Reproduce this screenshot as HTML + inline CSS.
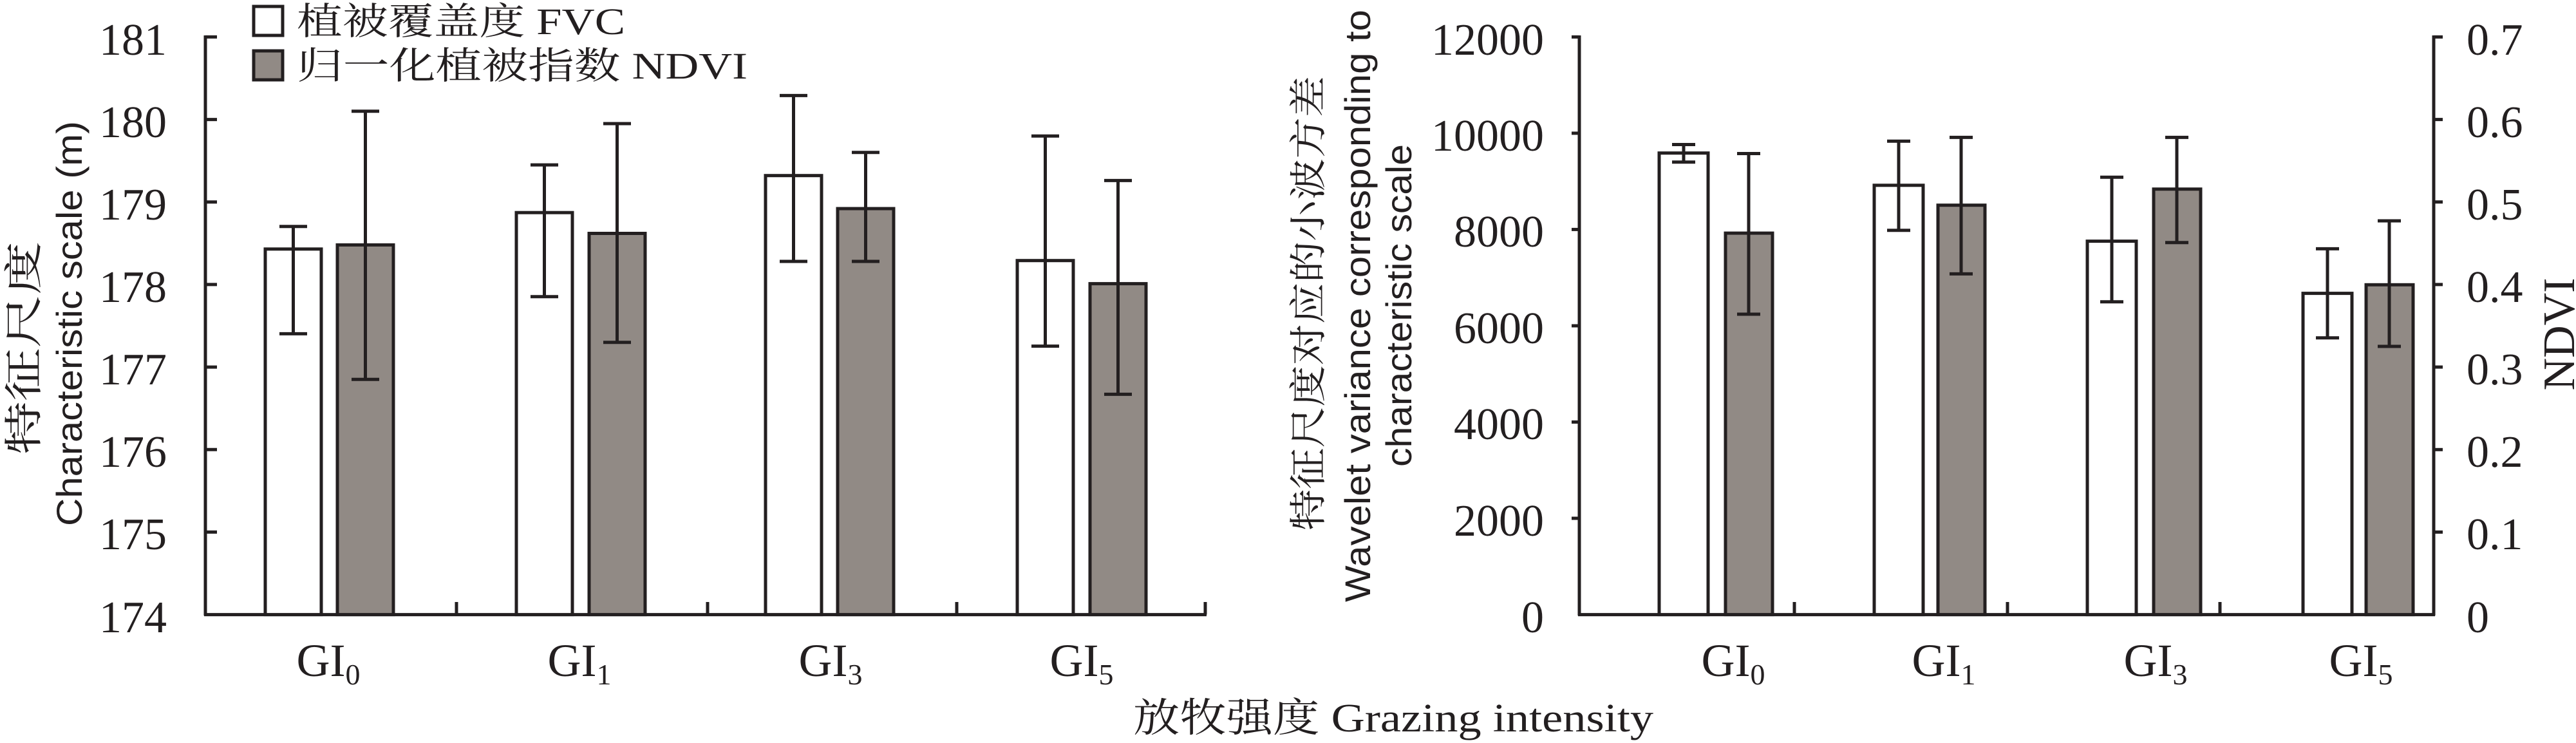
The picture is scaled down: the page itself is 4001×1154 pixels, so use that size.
<!DOCTYPE html>
<html><head><meta charset="utf-8"><style>
html,body{margin:0;padding:0;background:#fff;}
svg{display:block;}
.t{font-family:"Liberation Serif","Noto Serif CJK SC",serif;fill:#231f20;}
.s{font-family:"Liberation Sans","Noto Sans CJK SC",sans-serif;fill:#231f20;}
</style></head><body>
<svg width="4001" height="1154" viewBox="0 0 4001 1154" xmlns="http://www.w3.org/2000/svg">
<g stroke="#231f20" stroke-width="5" fill="none">
<line x1="319" y1="55" x2="319" y2="956"/>
<line x1="317" y1="954.6" x2="1874" y2="954.6"/>
<line x1="319" y1="57.4" x2="337" y2="57.4"/>
<line x1="319" y1="185.6" x2="337" y2="185.6"/>
<line x1="319" y1="313.7" x2="337" y2="313.7"/>
<line x1="319" y1="441.9" x2="337" y2="441.9"/>
<line x1="319" y1="570.1" x2="337" y2="570.1"/>
<line x1="319" y1="698.3" x2="337" y2="698.3"/>
<line x1="319" y1="826.4" x2="337" y2="826.4"/>
<line x1="709" y1="954.6" x2="709" y2="935"/>
<line x1="1099" y1="954.6" x2="1099" y2="935"/>
<line x1="1486" y1="954.6" x2="1486" y2="935"/>
<line x1="1872" y1="954.6" x2="1872" y2="935"/>
<line x1="2453" y1="55" x2="2453" y2="956"/>
<line x1="3780" y1="55" x2="3780" y2="956"/>
<line x1="2451" y1="954.6" x2="3782" y2="954.6"/>
<line x1="2441" y1="57.4" x2="2453" y2="57.4"/>
<line x1="2441" y1="206.9" x2="2453" y2="206.9"/>
<line x1="2441" y1="356.4" x2="2453" y2="356.4"/>
<line x1="2441" y1="506" x2="2453" y2="506"/>
<line x1="2441" y1="655.5" x2="2453" y2="655.5"/>
<line x1="2441" y1="805" x2="2453" y2="805"/>
<line x1="3780" y1="57.4" x2="3794" y2="57.4"/>
<line x1="3780" y1="185.6" x2="3794" y2="185.6"/>
<line x1="3780" y1="313.7" x2="3794" y2="313.7"/>
<line x1="3780" y1="441.9" x2="3794" y2="441.9"/>
<line x1="3780" y1="570.1" x2="3794" y2="570.1"/>
<line x1="3780" y1="698.3" x2="3794" y2="698.3"/>
<line x1="3780" y1="826.4" x2="3794" y2="826.4"/>
<line x1="2787" y1="954.6" x2="2787" y2="935"/>
<line x1="3118" y1="954.6" x2="3118" y2="935"/>
<line x1="3448" y1="954.6" x2="3448" y2="935"/>
</g>
<g stroke="#231f20" stroke-width="5">
<rect x="412" y="386.8" width="87" height="567.8" fill="#fff"/>
<rect x="524" y="380.4" width="87" height="574.2" fill="#918a85"/>
<rect x="802" y="330.2" width="87" height="624.4" fill="#fff"/>
<rect x="915" y="362.5" width="87" height="592.1" fill="#918a85"/>
<rect x="1189" y="272.7" width="87" height="681.9" fill="#fff"/>
<rect x="1301" y="324" width="87" height="630.6" fill="#918a85"/>
<rect x="1580" y="404.7" width="87" height="549.9" fill="#fff"/>
<rect x="1693" y="440.6" width="87" height="514" fill="#918a85"/>
<rect x="2577" y="237.7" width="76" height="716.9" fill="#fff"/>
<rect x="2680" y="362.1" width="73" height="592.5" fill="#918a85"/>
<rect x="2911" y="287.8" width="76" height="666.8" fill="#fff"/>
<rect x="3010" y="318.7" width="73" height="635.9" fill="#918a85"/>
<rect x="3242" y="374.6" width="76" height="580" fill="#fff"/>
<rect x="3345" y="293.7" width="73" height="660.9" fill="#918a85"/>
<rect x="3577" y="455.6" width="76" height="499" fill="#fff"/>
<rect x="3675" y="442.3" width="73" height="512.3" fill="#918a85"/>
<rect x="394" y="10" width="45" height="45" fill="#fff"/>
<rect x="394" y="79" width="45" height="45" fill="#918a85"/>
</g>
<g stroke="#231f20" stroke-width="5" fill="none">
<path d="M455.5 351.8V518.4M434 351.8H477M434 518.4H477"/>
<path d="M567.5 172.8V589.3M546 172.8H589M546 589.3H589"/>
<path d="M845.5 256.1V460.7M824 256.1H867M824 460.7H867"/>
<path d="M958.5 192V531.7M937 192H980M937 531.7H980"/>
<path d="M1232.5 148.4V406M1211 148.4H1254M1211 406H1254"/>
<path d="M1344.5 236.8V406M1323 236.8H1366M1323 406H1366"/>
<path d="M1623.5 211.2V537.6M1602 211.2H1645M1602 537.6H1645"/>
<path d="M1736.5 280.4V612.4M1715 280.4H1758M1715 612.4H1758"/>
<path d="M2615 224.5V251.7M2597 224.5H2633M2597 251.7H2633"/>
<path d="M2716 238.5V488M2698 238.5H2734M2698 488H2734"/>
<path d="M2949 219.3V357.7M2931 219.3H2967M2931 357.7H2967"/>
<path d="M3046 213.4V425.4M3028 213.4H3064M3028 425.4H3064"/>
<path d="M3280 275.3V468.8M3262 275.3H3298M3262 468.8H3298"/>
<path d="M3381 213.4V376.8M3363 213.4H3399M3363 376.8H3399"/>
<path d="M3615 386.4V524.8M3597 386.4H3633M3597 524.8H3633"/>
<path d="M3711 343V538M3693 343H3729M3693 538H3729"/>
</g>
<g class="t" font-size="70" text-anchor="end">
<text x="259" y="85">181</text>
<text x="259" y="213">180</text>
<text x="259" y="341">179</text>
<text x="259" y="469">178</text>
<text x="259" y="597">177</text>
<text x="259" y="725">176</text>
<text x="259" y="853">175</text>
<text x="259" y="982">174</text>
</g>
<g class="t" font-size="70" text-anchor="end">
<text x="2398" y="85">12000</text>
<text x="2398" y="234">10000</text>
<text x="2398" y="383">8000</text>
<text x="2398" y="533">6000</text>
<text x="2398" y="682">4000</text>
<text x="2398" y="832">2000</text>
<text x="2398" y="982">0</text>
</g>
<g class="t" font-size="70" text-anchor="start">
<text x="3831" y="85">0.7</text>
<text x="3831" y="213">0.6</text>
<text x="3831" y="341">0.5</text>
<text x="3831" y="469">0.4</text>
<text x="3831" y="597">0.3</text>
<text x="3831" y="725">0.2</text>
<text x="3831" y="853">0.1</text>
<text x="3831" y="982">0</text>
</g>
<g class="t" font-size="72" text-anchor="middle">
<text x="510" y="1050">GI<tspan font-size="46" dy="13">0</tspan></text>
<text x="900" y="1050">GI<tspan font-size="46" dy="13">1</tspan></text>
<text x="1290" y="1050">GI<tspan font-size="46" dy="13">3</tspan></text>
<text x="1680" y="1050">GI<tspan font-size="46" dy="13">5</tspan></text>
<text x="2692" y="1050">GI<tspan font-size="46" dy="13">0</tspan></text>
<text x="3019" y="1050">GI<tspan font-size="46" dy="13">1</tspan></text>
<text x="3348" y="1050">GI<tspan font-size="46" dy="13">3</tspan></text>
<text x="3667" y="1050">GI<tspan font-size="46" dy="13">5</tspan></text>
</g>
<text class="t" x="461" y="53" font-size="58" textLength="510" lengthAdjust="spacingAndGlyphs">植被覆盖度 FVC</text>
<text class="t" x="461" y="122" font-size="58" textLength="700" lengthAdjust="spacingAndGlyphs">归一化植被指数 NDVI</text>
<text class="t" x="1760" y="1136" font-size="62" textLength="808" lengthAdjust="spacingAndGlyphs">放牧强度 Grazing intensity</text>
<text class="t" transform="translate(58,706) rotate(-90)" font-size="60" textLength="331" lengthAdjust="spacingAndGlyphs">特征尺度</text>
<text class="s" transform="translate(127,817) rotate(-90)" font-size="56" textLength="629" lengthAdjust="spacingAndGlyphs">Characteristic scale (m)</text>
<text class="t" transform="translate(2052,824) rotate(-90)" font-size="58" textLength="706" lengthAdjust="spacingAndGlyphs">特征尺度对应的小波方差</text>
<text class="s" transform="translate(2128,935) rotate(-90)" font-size="56" textLength="920" lengthAdjust="spacingAndGlyphs">Wavelet variance corresponding to</text>
<text class="s" transform="translate(2192,725) rotate(-90)" font-size="56" textLength="501" lengthAdjust="spacingAndGlyphs">characteristic scale</text>
<text class="t" transform="translate(3998,519) rotate(-90)" font-size="70" text-anchor="middle">NDVI</text>
</svg>
</body></html>
